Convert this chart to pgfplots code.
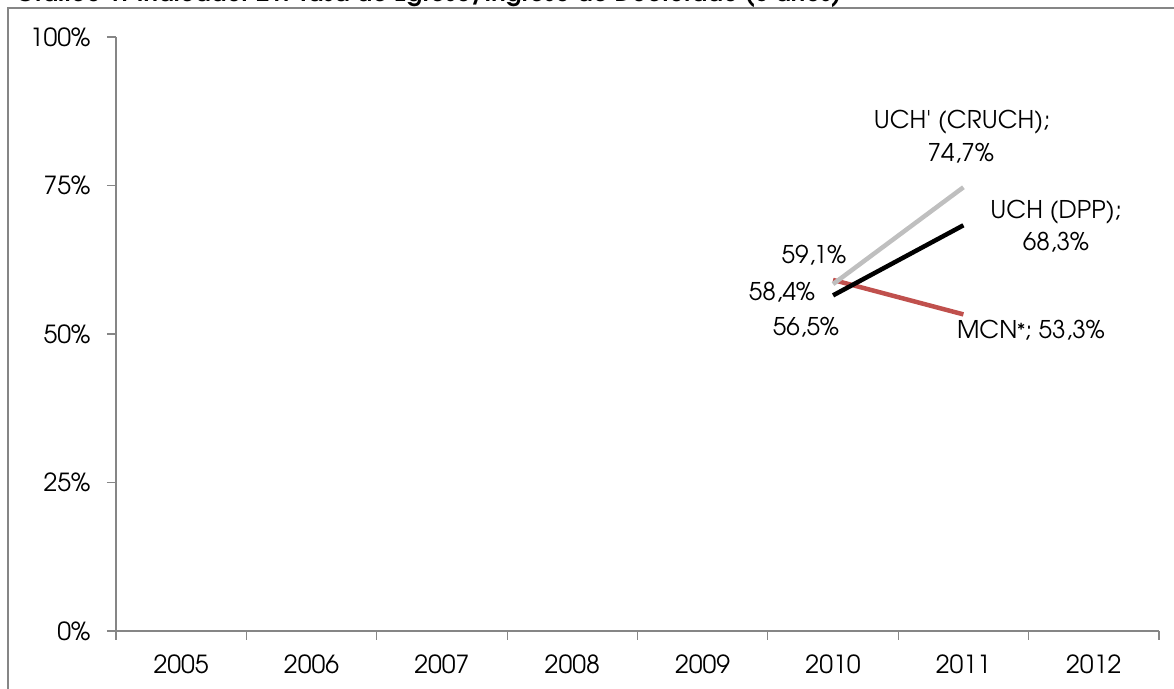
\documentclass[border=0pt]{standalone}
\usepackage{fontspec}
\setmainfont{TeX Gyre Adventor}
\newfontfamily\plainfont{TeX Gyre Adventor}
\usepackage{pgfplots}
\pgfplotsset{compat=1.18}
\definecolor{axgray}{RGB}{134,134,134}
\definecolor{lgray}{RGB}{191,191,191}
\definecolor{mred}{RGB}{192,80,77}
\begin{document}
\begin{tikzpicture}[x=1bp,y=1bp]
\useasboundingbox (-116,-58) rectangle (1058,631);
\draw[axgray, line width=1.2bp] (-108,-80) -- (-108,623) -- (1080,623);
\node[anchor=base west, font=\fontsize{24}{28}\selectfont\bfseries, inner sep=0] at (-101,629) {Gráfico 1: Indicador 21: Tasa de Egreso/Ingreso de Doctorado (6 años)};
\begin{axis}[at={(0,0)}, anchor=south west, scale only axis, width=1043bp, height=594bp,
  xmin=0, xmax=8, ymin=0, ymax=100, clip=false,
  axis x line=bottom, axis y line=left,
  axis line style={-, axgray, line width=1.2bp},
  xtick={0.5,1.5,2.5,3.5,4.5,5.5,6.5,7.5},
  xticklabels={2005,2006,2007,2008,2009,2010,2011,2012},
  minor xtick={0,1,2,3,4,5,6,7,8},
  major x tick style={draw=none},
  ytick={0,25,50,75,100},
  yticklabels={0\%,25\%,50\%,75\%,100\%},
  tick align=outside,
  major tick length=9bp, minor tick length=9bp,
  tick style={axgray, line width=1.2bp},
  ticklabel style={font=\fontsize{25}{28}\selectfont},
  xticklabel style={yshift=-11bp},
  yticklabel style={xshift=-13bp},
]
\addplot[mred, line width=4.5bp] coordinates {(5.5,59.1) (6.5,53.3)};
\addplot[lgray, line width=4.5bp] coordinates {(5.5,58.4) (6.5,74.7)};
\addplot[black, line width=4.5bp] coordinates {(5.5,56.5) (6.5,68.3)};
\begin{scope}[every node/.style={font=\fontsize{24.5}{28}\selectfont, inner sep=0}]
\node at (axis cs:5.354,63.3) {59,1\%};
\node at (axis cs:5.108,57.1) {58,4\%};
\node at (axis cs:5.292,51.2) {56,5\%};
\node at (axis cs:6.489,85.7) {\plainfont UCH' (CRUCH);};
\node at (axis cs:6.48,80.5) {74,7\%};
\node at (axis cs:7.21,70.5) {UCH (DPP);};
\node at (axis cs:7.21,65.4) {68,3\%};
\node at (axis cs:7.018,50.7) {MCN{\fontsize{18}{20}\selectfont\raisebox{2bp}{*}}; 53,3\%};
\end{scope}
\end{axis}
\end{tikzpicture}
\end{document}
